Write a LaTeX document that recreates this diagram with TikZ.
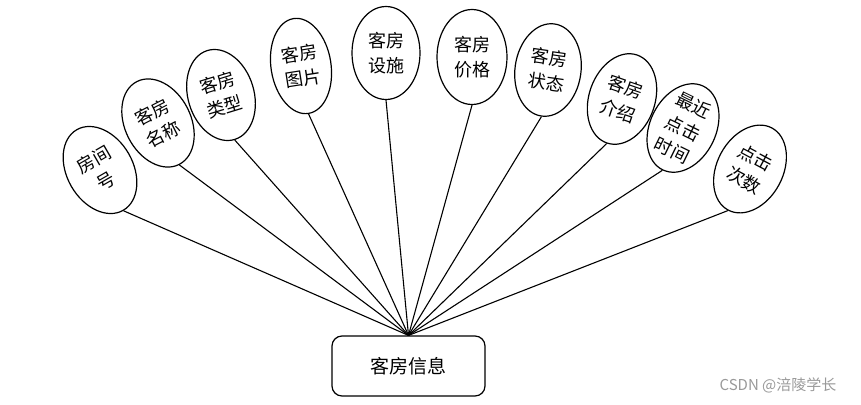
\documentclass[tikz,border=0pt]{standalone}
\usepackage{fontspec}
\setmainfont{Noto Sans CJK SC}
\usetikzlibrary{shapes.geometric}
\begin{document}
\begin{tikzpicture}[x=1pt,y=-1pt,
  attr/.style={draw, ellipse, line width=1.2pt, minimum width=66pt, minimum height=93pt, inner sep=0pt},
  lbl/.style={align=center, font=\fontsize{18}{25}\selectfont, inner sep=0pt},
  link/.style={line width=1.1pt},
  mainbox/.style={draw, rounded corners=10pt, line width=1.2pt, minimum width=153pt, minimum height=60pt, font=\fontsize{19}{24}\selectfont},
  wmark/.style={text=black!40, font=\fontsize{15}{18}\selectfont}]
\useasboundingbox (0,0) rectangle (861,404);
\node[mainbox] (main) at (408.5,366) {客房信息};

\node[attr, rotate=30] (e1) at (100,170) {};
\node[lbl, rotate=30] (t1) at (e1.center) {房间\\号};
\node[attr, rotate=27] (e2) at (158,123) {};
\node[lbl, rotate=27] (t2) at (e2.center) {客房\\名称};
\node[attr, rotate=17] (e3) at (221,95) {};
\node[lbl, rotate=17] (t3) at (e3.center) {客房\\类型};
\node[attr, rotate=9, minimum width=60pt, minimum height=96pt] (e4) at (301,66) {};
\node[lbl, rotate=9] (t4) at (e4.center) {客房\\图片};
\node[attr, minimum width=68pt] (e5) at (386,53) {};
\node[lbl] (t5) at (e5.center) {客房\\设施};
\node[attr, minimum width=70pt, minimum height=95pt] (e6) at (472,57) {};
\node[lbl] (t6) at (e6.center) {客房\\价格};
\node[attr, rotate=-8] (e7) at (548,70) {};
\node[lbl, rotate=-8] (t7) at (e7.center) {客房\\状态};
\node[attr, rotate=-19] (e8) at (622,99) {};
\node[lbl, rotate=-19] (t8) at (e8.center) {客房\\介绍};
\node[attr, rotate=-26] (e9) at (683,128) {};
\node[lbl, rotate=-26] (t9) at (e9.center) {最近\\点击\\时间};
\node[attr, rotate=-28] (e10) at (750,169) {};
\node[lbl, rotate=-28] (t10) at (e10.center) {点击\\次数};

\foreach \e in {e1,e2,e3,e4,e5,e6,e7,e8,e9,e10}
  \draw[link] (\e.south) -- (main.north);

\node[wmark] (wm) at (778,385) {CSDN @涪陵学长};
\end{tikzpicture}
\end{document}
